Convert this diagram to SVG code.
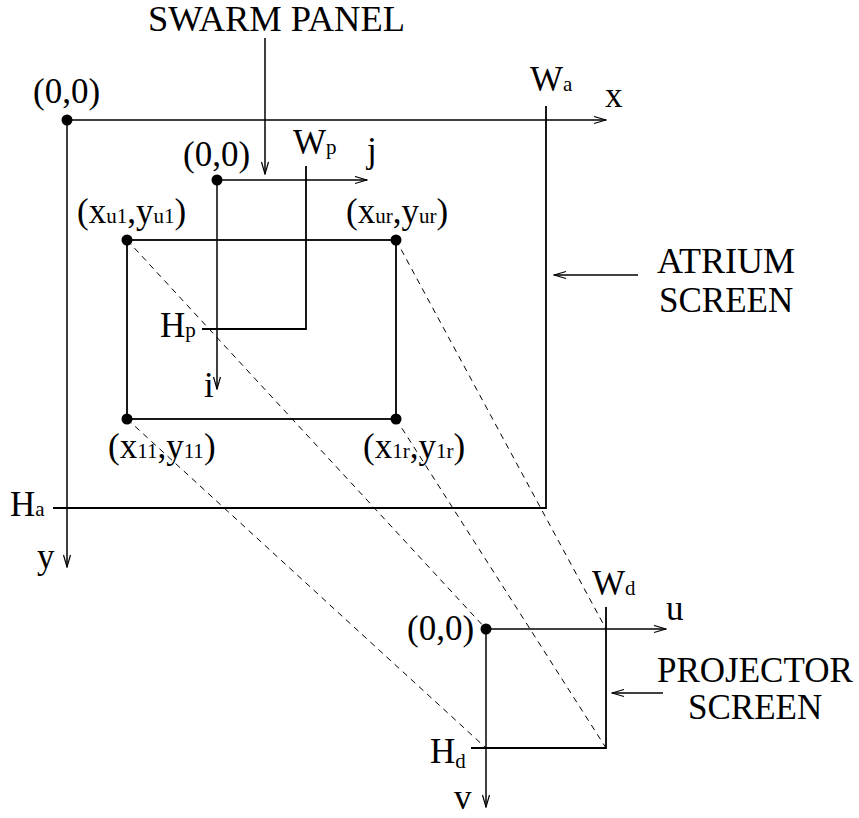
<svg xmlns="http://www.w3.org/2000/svg" width="859" height="818" viewBox="0 0 859 818">
<style>
text{font-family:"Liberation Serif","Times New Roman",serif;font-size:35px;fill:#000}
.s{font-size:21px}
.ln{stroke:#000;stroke-width:1.8;fill:none}
.ax{stroke:#000;stroke-width:1.5;fill:none;marker-end:url(#ah)}
.dash{stroke:#000;stroke-width:1;fill:none;stroke-dasharray:6,5}
.dot{fill:#000}
</style>
<defs>
<marker id="ah" markerUnits="userSpaceOnUse" markerWidth="14" markerHeight="10" refX="13" refY="4.5" orient="auto">
<path d="M1,1 L13,4.5 L1,8" fill="none" stroke="#000" stroke-width="1.2"/>
</marker>
</defs>
<rect width="859" height="818" fill="#fff"/>
<g id="connectors">
<line class="dash" x1="127" y1="240" x2="486" y2="629"/>
<line class="dash" x1="396" y1="240" x2="606" y2="629"/>
<line class="dash" x1="127" y1="419" x2="486" y2="748"/>
<line class="dash" x1="396" y1="419" x2="606" y2="748"/>
<line class="ax" x1="265" y1="38" x2="265" y2="174"/>
<line class="ax" x1="638" y1="275" x2="554" y2="275"/>
<line class="ax" x1="663" y1="693" x2="612" y2="693"/>
</g>
<g id="atrium-screen">
<line class="ax" x1="67" y1="120" x2="606" y2="120"/>
<line class="ax" x1="67" y1="120" x2="67" y2="567"/>
<polyline class="ln" points="546,106 546,508 53,508"/>
<circle class="dot" cx="67" cy="120" r="5.5"/>
<text x="33" y="103">(0,0)</text>
<text x="530" y="91">W<tspan class="s">a</tspan></text>
<text x="605" y="107">x</text>
<text x="10" y="516">H<tspan class="s">a</tspan></text>
<text x="37" y="568">y</text>
<text x="657" y="273" textLength="138" lengthAdjust="spacingAndGlyphs">ATRIUM</text>
<text x="659" y="312">SCREEN</text>
</g>
<g id="swarm-panel">
<line class="ax" x1="217" y1="180" x2="367" y2="180"/>
<line class="ax" x1="217" y1="180" x2="217" y2="389"/>
<polyline class="ln" points="306,166 306,329 202,329"/>
<circle class="dot" cx="217" cy="180" r="5.5"/>
<text x="148" y="31" textLength="257" lengthAdjust="spacingAndGlyphs">SWARM PANEL</text>
<text x="183" y="166">(0,0)</text>
<text x="293" y="154">W<tspan class="s">p</tspan></text>
<text x="367" y="162">j</text>
<text x="160" y="337">H<tspan class="s">p</tspan></text>
<text x="204" y="397">i</text>
</g>
<g id="inner-rect">
<rect class="ln" x="127" y="240" width="269" height="179"/>
<circle class="dot" cx="127" cy="240" r="5.5"/>
<circle class="dot" cx="396" cy="240" r="5.5"/>
<circle class="dot" cx="127" cy="419" r="5.5"/>
<circle class="dot" cx="396" cy="419" r="5.5"/>
<text x="77" y="223">(x<tspan class="s">u1</tspan>,y<tspan class="s">u1</tspan>)</text>
<text x="346" y="223">(x<tspan class="s">ur</tspan>,y<tspan class="s">ur</tspan>)</text>
<text x="108" y="458">(x<tspan class="s">11</tspan>,y<tspan class="s">11</tspan>)</text>
<text x="363" y="458">(x<tspan class="s">1r</tspan>,y<tspan class="s">1r</tspan>)</text>
</g>
<g id="projector-screen">
<line class="ax" x1="486" y1="629" x2="666" y2="629"/>
<line class="ax" x1="486" y1="629" x2="486" y2="807"/>
<polyline class="ln" points="606,607 606,748 471,748"/>
<circle class="dot" cx="486" cy="629" r="5.5"/>
<text x="407" y="640">(0,0)</text>
<text x="592" y="595">W<tspan class="s">d</tspan></text>
<text x="666" y="620">u</text>
<text x="430" y="763">H<tspan class="s" dy="5">d</tspan></text>
<text x="454" y="809">v</text>
<text x="657" y="682">PROJECTOR</text>
<text x="688" y="719">SCREEN</text>
</g>
</svg>
